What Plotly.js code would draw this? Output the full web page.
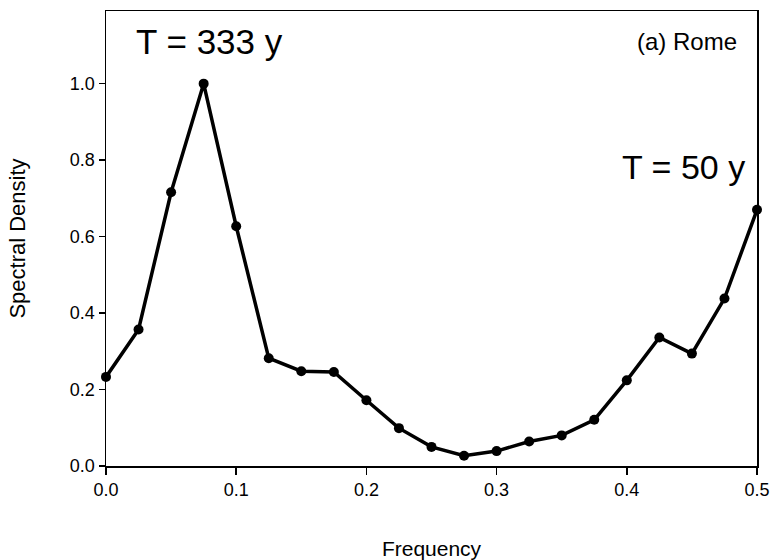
<!DOCTYPE html>
<html>
<head>
<meta charset="utf-8">
<script src="https://cdn.plot.ly/plotly-3.0.1.min.js"></script>
<style>html,body{margin:0;padding:0;background:#fff}#chart{width:771px;height:560px}</style>
</head>
<body>
<div id="chart"></div>
<script>
const frequency = [0, 0.025, 0.05, 0.075, 0.1, 0.125, 0.15, 0.175, 0.2, 0.225, 0.25, 0.275, 0.3, 0.325, 0.35, 0.375, 0.4, 0.425, 0.45, 0.475, 0.5];
const spectralDensity = [0.233, 0.357, 0.716, 1.0, 0.627, 0.282, 0.248, 0.246, 0.172, 0.099, 0.050, 0.027, 0.039, 0.064, 0.080, 0.121, 0.224, 0.336, 0.294, 0.438, 0.670];
const xTicks = [0, 0.1, 0.2, 0.3, 0.4, 0.5];
const xTickLabels = ['0.0', '0.1', '0.2', '0.3', '0.4', '0.5'];
const yTicks = [0, 0.2, 0.4, 0.6, 0.8, 1.0];
const yTickLabels = ['0.0', '0.2', '0.4', '0.6', '0.8', '1.0'];

const FONT = 'Arial, "Liberation Sans", sans-serif';

const trace = {
  x: frequency, y: spectralDensity,
  type: 'scatter', mode: 'lines+markers',
  line: {color: '#000', width: 3.5},
  marker: {color: '#000', size: 10},
  cliponaxis: false,
  hoverinfo: 'x+y'
};

const layout = {
  width: 771, height: 560,
  margin: {l: 106, r: 14, t: 11, b: 94},
  paper_bgcolor: '#fff', plot_bgcolor: '#fff',
  showlegend: false,
  font: {family: FONT, color: '#000'},
  xaxis: {
    range: [0, 0.5], tickvals: xTicks, ticktext: xTickLabels,
    ticks: 'outside', ticklen: 7, tickwidth: 1.5, tickcolor: '#000',
    showline: true, linecolor: '#000', linewidth: 1.5, mirror: true,
    showgrid: false, zeroline: false,
    tickfont: {size: 18, family: FONT},
    title: {text: 'Frequency', font: {size: 21, family: FONT}, standoff: 44}
  },
  yaxis: {
    range: [0, 1.19], tickvals: yTicks, ticktext: yTickLabels,
    ticks: 'outside', ticklen: 6, tickwidth: 1.5, tickcolor: '#000',
    showline: true, linecolor: '#000', linewidth: 1.5, mirror: true,
    showgrid: false, zeroline: false,
    tickfont: {size: 18, family: FONT},
    title: {text: 'Spectral Density', font: {size: 22, family: FONT}, standoff: 38}
  },
  annotations: [
    {text: 'T = 333 y', xref: 'paper', yref: 'paper', x: 0.043, y: 0.932, xanchor: 'left', yanchor: 'middle', showarrow: false, font: {size: 35, family: FONT}},
    {text: 'T = 50 y', xref: 'paper', yref: 'paper', x: 0.984, y: 0.657, xanchor: 'right', yanchor: 'middle', showarrow: false, font: {size: 34, family: FONT}},
    {text: '(a) Rome', xref: 'paper', yref: 'paper', x: 0.972, y: 0.934, xanchor: 'right', yanchor: 'middle', showarrow: false, font: {size: 24, family: FONT}}
  ]
};

Plotly.newPlot('chart', [trace], layout, {displayModeBar: false, staticPlot: true});
</script>
</body>
</html>
